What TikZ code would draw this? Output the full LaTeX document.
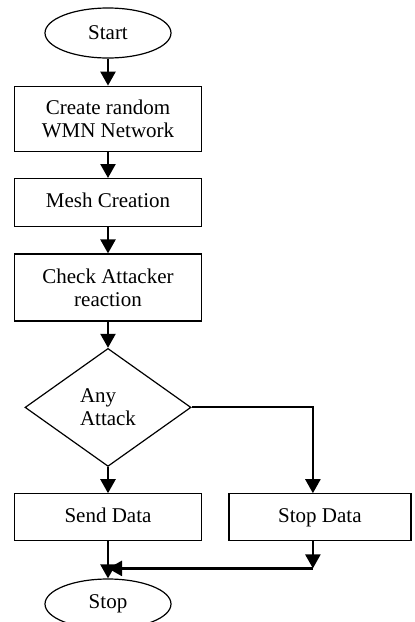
\documentclass[tikz,border=0pt]{standalone}
\usepackage{fontspec}
\setmainfont{Liberation Serif}
\usepackage{tikz}
\usetikzlibrary{positioning,arrows.meta,shapes.geometric}
\tikzset{
  term/.style={ellipse,draw,line width=0.6pt,minimum width=63pt,minimum height=25pt,inner sep=0pt},
  proc/.style={rectangle,draw,line width=0.6pt,minimum width=93.5pt,align=center,inner sep=2pt},
  dcn/.style={diamond,draw,line width=0.6pt,minimum width=83pt,minimum height=59pt,aspect=1.4,
    align=left,inner sep=0pt},
  oneline/.style={text height=1.55ex,text depth=0.5ex},
  ar/.style={-{Triangle[length=7pt,width=7.5pt]},line width=1.2pt},
  ln/.style={line width=1pt},
}
\begin{document}
\begin{tikzpicture}[node distance=13.1pt,every node/.style={font=\fontsize{10.5}{11.5}\selectfont}]
  \useasboundingbox (0,0) rectangle (207pt,-311pt);
  \node[term] (start) at (54pt,-16.5pt) {Start};
  \node[proc,minimum height=32.5pt,below=13.5pt of start] (create) {Create random\\WMN Network};
  \node[proc,oneline,minimum height=24pt,below=of create] (mesh) {Mesh Creation};
  \node[proc,minimum height=33.5pt,below=of mesh] (check) {Check Attacker\\reaction};
  \node[dcn,below=of check] (attack) {Any\\Attack};
  \node[proc,oneline,minimum height=23.5pt,below=of attack] (send) {Send Data};
  \node[proc,oneline,minimum height=23.5pt,minimum width=91pt,right=of send] (stopdata) {Stop Data};
  \node[term,below=18.5pt of send] (stop) {Stop};
  \coordinate (turn) at ([xshift=-3.5pt,yshift=-13.5pt]stopdata.south);
  \foreach \a/\b in {start/create,create/mesh,mesh/check,check/attack,attack/send,send/stop}
    \draw[ar] (\a)--(\b);
  \draw[ln] (attack.east) -| ([xshift=-3.5pt,yshift=8pt]stopdata.north);
  \draw[ar] ([xshift=-3.5pt,yshift=8.5pt]stopdata.north) -- ([xshift=-3.5pt]stopdata.north);
  \draw[ar] ([xshift=-3.5pt]stopdata.south) -- (turn);
  \draw[ar] (turn) -- (turn -| stop.north);
\end{tikzpicture}
\end{document}
